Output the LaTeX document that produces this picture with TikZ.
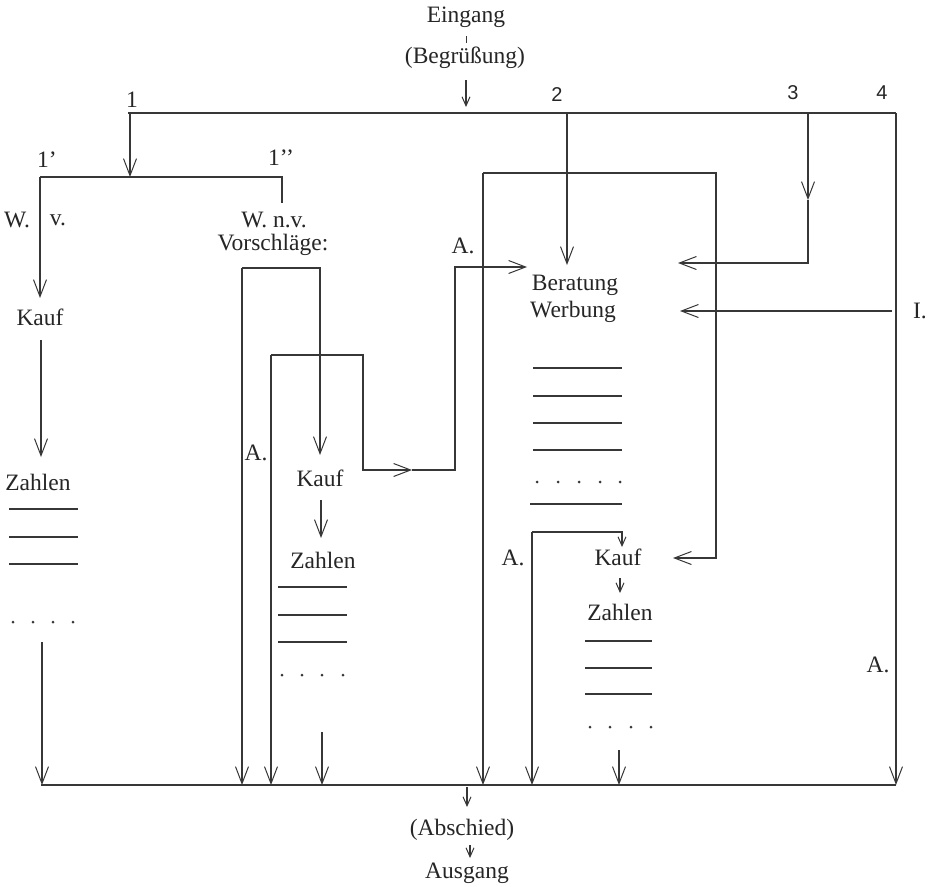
\documentclass[tikz,border=0pt]{standalone}
\usepackage{fontspec}
\setmainfont{Liberation Serif}
\newfontfamily\numfont{Liberation Sans}
\usetikzlibrary{arrows.meta}
\definecolor{ink}{RGB}{55,55,55}
\definecolor{tink}{RGB}{38,38,38}
\begin{document}
\begin{tikzpicture}[x=1pt,y=-1pt,
  ln/.style={line width=1.1pt, draw=ink},
  arr/.style={ln, -{Straight Barb[length=17pt,width=13pt,line width=1pt]}},
  sarr/.style={ln, -{Straight Barb[length=9pt,width=8pt,line width=1pt]}},
  rulex/.style={line width=1.2pt, draw=ink},
  lbl/.style={font=\fontsize{23.5}{25}\selectfont, text=tink, inner sep=0pt},
  nlbl/.style={font=\numfont\fontsize{20}{22}\selectfont, text=tink, inner sep=0pt},
  dotf/.style={fill=ink}
]
\useasboundingbox (0,0) rectangle (931,886);
\fill[white] (0,0) rectangle (931,886);

% ---------- text nodes ----------
\node[lbl] (eing) at (466,17) {Eingang};
\node[lbl] (begr) at (465,58) {(Begrüßung)};
\node[lbl] (n1) at (132,100) {1};
\node[nlbl] (n2) at (557,95) {2};
\node[nlbl] (n3) at (793,93) {3};
\node[nlbl] (n4) at (882,93) {4};
\node[lbl] (n1p) at (47,160) {1’};
\node[lbl] (n1pp) at (281,158) {1’’};
\node[lbl] (wl) at (17,220) {W.};
\node[lbl] (vl) at (58,220) {v.};
\node[lbl] (wnv) at (274,220) {W.\ n.v.};
\node[lbl] (vors) at (273,245) {Vorschläge:};
\node[lbl] (kauf1) at (40,317) {Kauf};
\node[lbl] (zahl1) at (38,482) {Zahlen};
\node[lbl] (a1) at (256,453) {A.};
\node[lbl] (a2) at (463,246) {A.};
\node[lbl] (kauf2) at (320,478) {Kauf};
\node[lbl] (zahl2) at (323,560) {Zahlen};
\node[lbl] (ber) at (575,285) {Beratung};
\node[lbl] (werb) at (573,312) {Werbung};
\node[lbl] (iI) at (920,311) {I.};
\node[lbl] (a3) at (513,558) {A.};
\node[lbl] (kauf3) at (618,557) {Kauf};
\node[lbl] (zahl3) at (620,612) {Zahlen};
\node[lbl] (a4) at (878,665) {A.};
\node[lbl] (absch) at (462,830) {(Abschied)};
\node[lbl] (ausg) at (467,873) {Ausgang};

% ---------- junction coordinates ----------
\coordinate (tk1) at (466,36);  \coordinate (tk2) at (466,43);
\coordinate (ea1) at (466,80);  \coordinate (ea2) at (466,107);
\coordinate (TL) at (128,113);  \coordinate (TR) at (896,113);
\coordinate (BL) at (41,785);   \coordinate (BR) at (896,785);

% top line and entry
\draw[line width=0.8pt, draw=ink] (tk1) -- (tk2);
\draw[sarr] (ea1) -- (ea2);
\draw[rulex] (TL) -- (TR);
\draw[rulex] (BL) -- (BR);

% branch 1
\coordinate (b1a) at (130,113); \coordinate (b1b) at (130,177);
\draw[arr] (b1a) -- (b1b);
\coordinate (s1L) at (40,177); \coordinate (s1R) at (282,177); \coordinate (s1Rd) at (282,203);
\draw[ln] (s1L) -- (s1R) -- (s1Rd);
\coordinate (k1a) at (40,298);
\draw[arr] (s1L) -- (k1a);
\coordinate (k1b) at (41,340); \coordinate (k1c) at (41,457);
\draw[arr] (k1b) -- (k1c);
\coordinate (z1a) at (42,642); \coordinate (z1b) at (42,785);
\draw[arr] (z1a) -- (z1b);
\foreach \yy in {509,537,564} \draw[ln] (9,\yy) -- (78,\yy);
\foreach \xx in {13,33,53,73} \fill[dotf] (\xx,622) circle (1.5);

% branch 1'' (Vorschlaege)
\coordinate (v1) at (242,268); \coordinate (v2) at (320,268); \coordinate (v3) at (320,455);
\coordinate (v1b) at (242,785);
\draw[arr] (v1) -- (v1b);
\draw[arr] (v1) -- (v2) -- (v3);
\coordinate (k2a) at (321,500); \coordinate (k2b) at (321,538);
\draw[arr] (k2a) -- (k2b);
\foreach \yy in {587,615,642} \draw[ln] (278,\yy) -- (347,\yy);
\foreach \xx in {282,302,322,343} \fill[dotf] (\xx,675) circle (1.5);
\coordinate (z2a) at (322,732); \coordinate (z2b) at (322,785);
\draw[arr] (z2a) -- (z2b);

% second bracket (after Kauf of Vorschlaege)
\coordinate (w1) at (271,355); \coordinate (w1b) at (271,785);
\coordinate (w2) at (363,355); \coordinate (w3) at (363,470);
\coordinate (w4) at (412,470); \coordinate (w5) at (455,470);
\coordinate (w6) at (455,267); \coordinate (w7) at (527,267);
\draw[arr] (w1) -- (w1b);
\draw[arr] (w1) -- (w2) -- (w3) -- (w4);
\draw[arr] (w4) -- (w5) -- (w6) -- (w7);

% big bracket around Beratung
\coordinate (r1) at (483,173); \coordinate (r1b) at (483,785);
\coordinate (r2) at (716,173); \coordinate (r3) at (716,558); \coordinate (r4) at (673,558);
\draw[arr] (r1) -- (r1b);
\draw[arr] (r1) -- (r2) -- (r3) -- (r4);

% branch 2
\coordinate (b2a) at (567,113); \coordinate (b2b) at (567,265);
\draw[arr] (b2a) -- (b2b);

% branch 3
\coordinate (b3a) at (808,113); \coordinate (b3m) at (808,200);
\coordinate (b3b) at (808,263); \coordinate (b3c) at (678,263);
\draw[arr] (b3a) -- (b3m);
\draw[arr] (b3m) -- (b3b) -- (b3c);

% branch 4
\draw[arr] (TR) -- (BR);

% I. arrow
\coordinate (i1) at (892,311); \coordinate (i2) at (680,311);
\draw[arr] (i1) -- (i2);

% list under Werbung
\foreach \yy in {368,396,423,450} \draw[ln] (533,\yy) -- (622,\yy);
\foreach \xx in {537,558,579,600,620} \fill[dotf] (\xx,482) circle (1.5);
\draw[ln] (530,504) -- (622,504);

% inner bracket
\coordinate (q1) at (532,532); \coordinate (q1b) at (532,785);
\coordinate (q2) at (622,532); \coordinate (q3) at (622,547);
\draw[arr] (q1) -- (q1b);
\draw[sarr] (q1) -- (q2) -- (q3);
\coordinate (k3a) at (620,578); \coordinate (k3b) at (620,593);
\draw[sarr] (k3a) -- (k3b);
\foreach \yy in {641,668,694} \draw[ln] (585,\yy) -- (652,\yy);
\foreach \xx in {590,610,631,651} \fill[dotf] (\xx,727) circle (1.5);
\coordinate (z3a) at (619,750); \coordinate (z3b) at (619,785);
\draw[arr] (z3a) -- (z3b);

% exit
\coordinate (x1) at (467,787); \coordinate (x2) at (467,807);
\draw[sarr] (x1) -- (x2);
\coordinate (x3) at (470,845); \coordinate (x4) at (470,858);
\draw[sarr] (x3) -- (x4);
\end{tikzpicture}
\end{document}
